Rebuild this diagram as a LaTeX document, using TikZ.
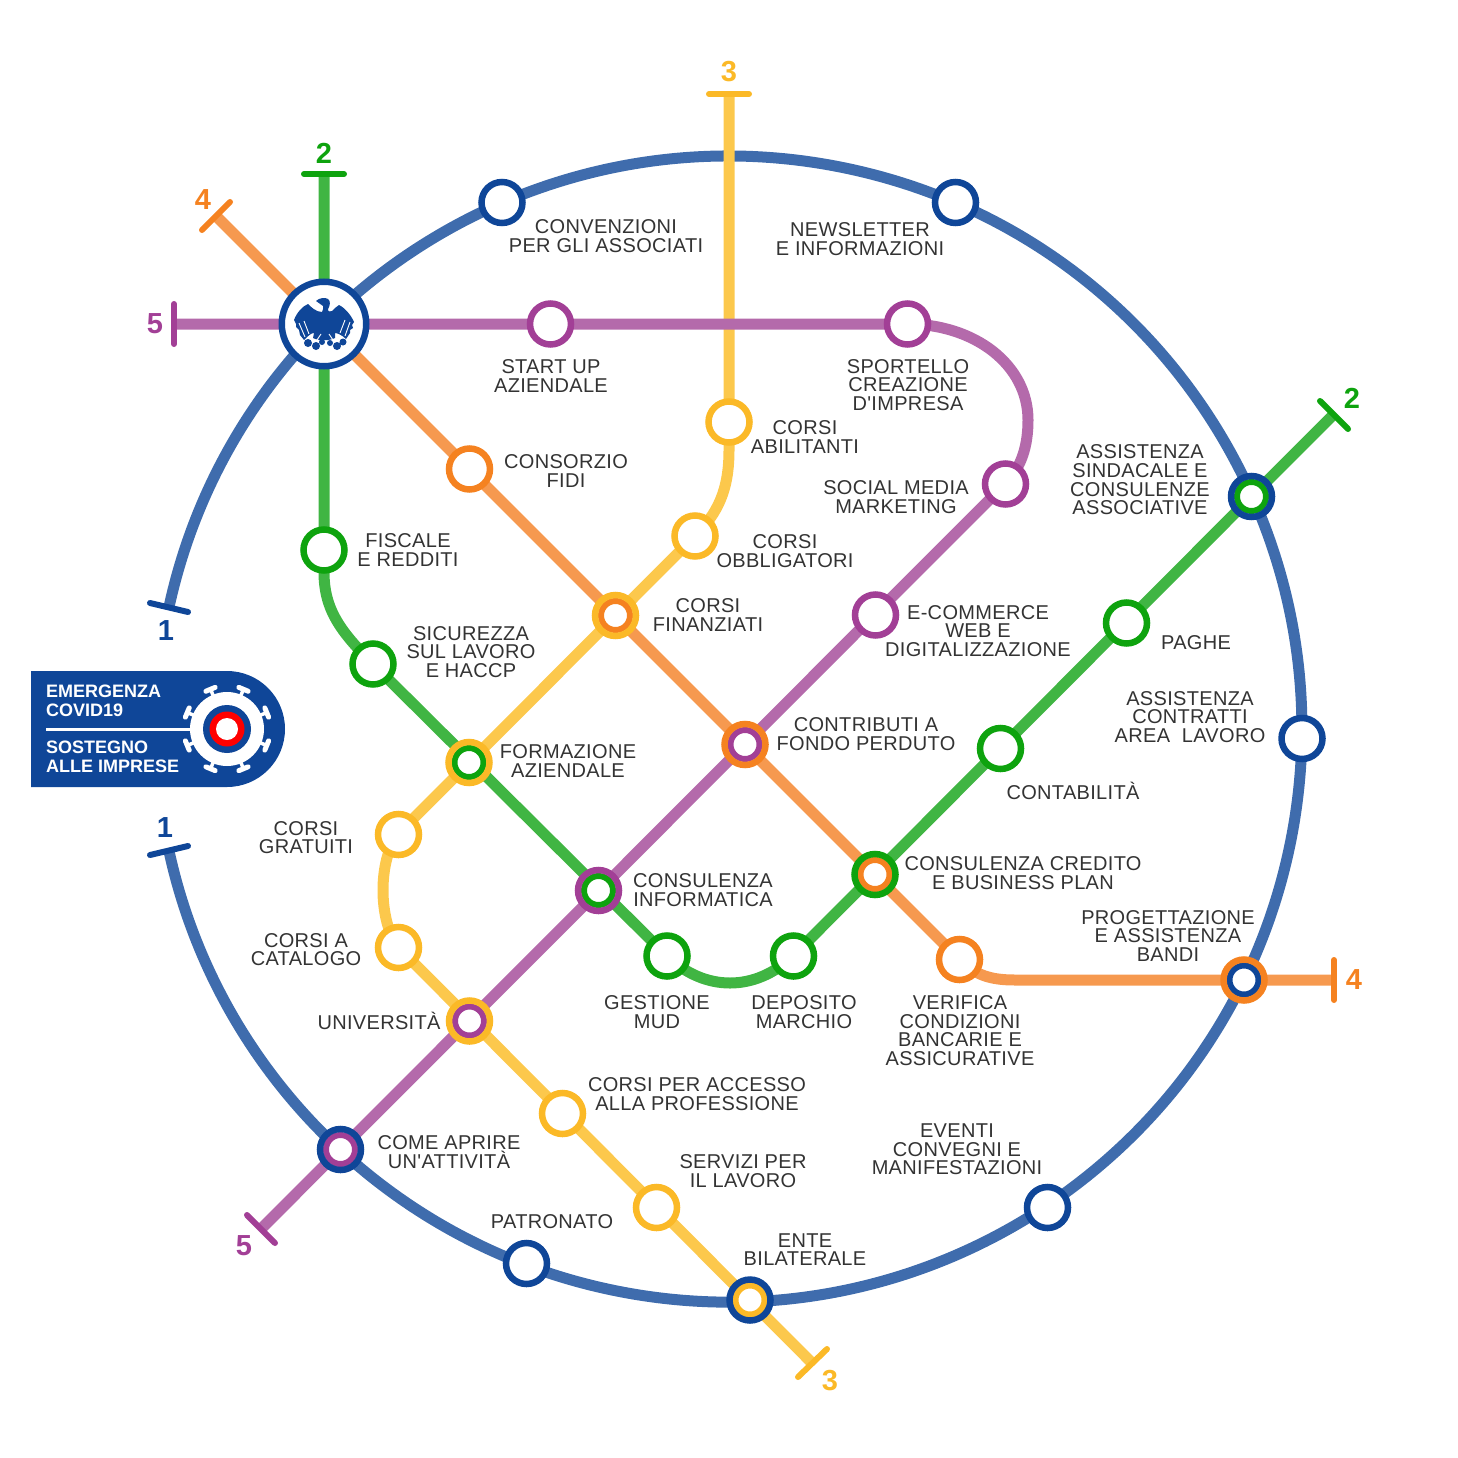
\documentclass[tikz,border=0pt]{standalone}
\usepackage{fontspec}
\newfontfamily\lblfont[LetterSpace=1.6]{Liberation Sans}
\newfontfamily\numfont{Liberation Sans}
\definecolor{lb}{HTML}{3F6CAD}\definecolor{db}{HTML}{0F4698}
\definecolor{lg}{HTML}{40B543}\definecolor{dg}{HTML}{0EA30E}
\definecolor{lo}{HTML}{F6994F}\definecolor{do}{HTML}{F58220}
\definecolor{ly}{HTML}{FCC84C}\definecolor{dy}{HTML}{FBB927}
\definecolor{lp}{HTML}{B46AAB}\definecolor{dp}{HTML}{A23F96}
\definecolor{txt}{HTML}{333333}
\tikzset{
 x=1pt,y=-1pt,
 line/.style={line width=11pt,line join=round},
 tee/.style={line width=6pt,line cap=round},
 stn/.style={circle,draw=#1,line width=6.5pt,fill=white,minimum size=41pt,inner sep=0pt},
 stnd/.style n args={2}{circle,draw=#1,line width=6.5pt,fill=white,minimum size=41pt,inner sep=0pt,
   path picture={\draw[#2,line width=6pt] (path picture bounding box.center) circle[radius=14.5pt];}},
 lbl/.style={font=\fontsize{20}{18.7}\lblfont,text=txt,align=center,inner sep=0pt},
 num/.style={font=\fontsize{29}{29}\numfont\bfseries,inner sep=0pt},
 cov/.style={font=\fontsize{18}{18.7}\numfont\bfseries,text=white,align=left,anchor=west,inner sep=0pt},
}
\begin{document}
\begin{tikzpicture}
\useasboundingbox (0,0) rectangle (1458,1458);
\coordinate (hub) at (324,324);
\coordinate (t1a) at (169,607);\coordinate (t1b) at (169,850);
\coordinate (t2a) at (324,174);\coordinate (t2b) at (1334,414);
\coordinate (t3a) at (729,94);\coordinate (t3b) at (812,1363);
\coordinate (t4a) at (215,215);\coordinate (t4b) at (1334,980);
\coordinate (t5a) at (174,324);\coordinate (t5b) at (261,1229);
% line 1
\draw[line,lb] (t1a) arc[start angle=192.3,end angle=527.7,radius=573];
% line 2
\draw[line,lg] (t2a) -- (324,572) .. controls (324,610) and (341,632) .. (373,664) -- (667,956) .. controls (705,992) and (755,992) .. (793,956) -- (t2b);
% line 3
\draw[line,ly] (t3a) -- (729,450) .. controls (729,490) and (718,513) .. (695,536) -- (398,834) .. controls (378,860) and (378,920) .. (398,947) -- (t3b);
% line 4
\draw[line,lo] (t4a) -- (959,959) .. controls (975,975) and (990,980) .. (1015,980) -- (t4b);
% line 5
\draw[line,lp] (t5a) -- (907,324) .. controls (975,324) and (1028,365) .. (1028,420) .. controls (1028,445) and (1022,467) .. (1005,484) -- (t5b);
% terminal bars
\draw[tee,db] (150,603) -- (188,612);
\draw[tee,db] (150,855) -- (188,846);
\draw[tee,dg] (304,174) -- (344,174);
\draw[tee,dg] (1320,401) -- (1348,429);
\draw[tee,dy] (709,94) -- (749,94);
\draw[tee,dy] (798,1377) -- (827,1349);
\draw[tee,do] (202,230) -- (230,202);
\draw[tee,do] (1334,960) -- (1334,1000);
\draw[tee,dp] (174,304) -- (174,344);
\draw[tee,dp] (247,1215) -- (275,1243);
% terminal numbers
\node[num,text=db] at (166,630.5) {1};
\node[num,text=db] at (165,827.5) {1};
\node[num,text=dg] at (324,153) {2};
\node[num,text=dg] at (1352,398) {2};
\node[num,text=dy] at (729,72) {3};
\node[num,text=dy] at (830,1381) {3};
\node[num,text=do] at (203,199.5) {4};
\node[num,text=do] at (1354,980) {4};
\node[num,text=dp] at (155,324) {5};
\node[num,text=dp] at (244,1245.5) {5};
% stations
\node[stn=db] at (502,202.5) {};
\node[stn=db] at (955.5,202.5) {};
\node[stn=db] at (1302,738.5) {};
\node[stn=db] at (1047.5,1207.5) {};
\node[stn=db] at (526.5,1263.5) {};
\node[stn=dp] at (550.5,324) {};
\node[stn=dp] at (907.5,324) {};
\node[stn=dp] at (1005.5,484) {};
\node[stn=dp] at (875.5,615) {};
\node[stn=do] at (469.5,469) {};
\node[stn=do] at (959.5,959.5) {};
\node[stn=dy] at (729,422) {};
\node[stn=dy] at (695,536) {};
\node[stn=dy] at (398.5,834.5) {};
\node[stn=dy] at (398.5,947.5) {};
\node[stn=dy] at (562.5,1113.5) {};
\node[stn=dy] at (656.5,1207.5) {};
\node[stn=dg] at (324,550) {};
\node[stn=dg] at (373,664) {};
\node[stn=dg] at (667,956) {};
\node[stn=dg] at (793.5,956) {};
\node[stn=dg] at (1000.5,748.5) {};
\node[stn=dg] at (1126.5,623) {};
\node[stnd={db}{dg}] at (1251.5,496.5) {};
\node[stnd={do}{db}] at (1244,980) {};
\node[stnd={db}{dy}] at (750,1300) {};
\node[stnd={db}{dp}] at (340.5,1149.5) {};
\node[stnd={dy}{do}] at (615.5,615.5) {};
\node[stnd={do}{dp}] at (745,744.5) {};
\node[stnd={dy}{dg}] at (469,762.5) {};
\node[stnd={dp}{dg}] at (598.5,890.5) {};
\node[stnd={dg}{do}] at (875,874.5) {};
\node[stnd={dy}{dp}] at (469.5,1021) {};
% hub
\node[circle,draw=db,line width=6.5pt,fill=white,minimum size=84.5pt,inner sep=0pt] at (hub) {};
% eagle
\begin{scope}[shift={(hub)}]
\fill[db] (-8,-23) .. controls (-5,-26) and (1,-27) .. (4,-25) .. controls (7,-23) and (6,-18) .. (4,-15)
 .. controls (3,-13) and (5,-12) .. (8,-13) .. controls (11,-15) and (12,-18) .. (15,-19) .. controls (21,-16) and (27,-9) .. (30,-2)
 -- (28,1) -- (29,4) -- (26,6) -- (26,9) -- (22,15) .. controls (18,11) and (13,9) .. (11,9) -- (11,14) .. controls (5,17) and (-5,17) .. (-11,14)
 -- (-10,9) .. controls (-13,9) and (-16,12) .. (-20,16) -- (-24,11) -- (-25,6) -- (-28,3) -- (-28,0) -- (-30,-4)
 .. controls (-27,-12) and (-21,-18) .. (-16,-20) .. controls (-13,-17) and (-8,-12) .. (-2,-12) .. controls (-1,-14) and (0,-17) .. (-1,-18)
 .. controls (-3,-21) and (-6,-20) .. (-8,-23) -- cycle;
\draw[white,line width=.9pt] (-25,-1) -- (-19,13) (-20,-3) -- (-15,10)
 (26,-2) -- (21,12) (21,-4) -- (16,9) (-3,10) -- (-7,16) (5,10) -- (9,16);
\fill[db] (-16,19) circle[radius=4] (-8,22) circle[radius=4] (-2,18) circle[radius=3] (6,19) circle[radius=3] (13,22) circle[radius=4] (19,18) circle[radius=3.5];
\end{scope}
% badge
\fill[db] (31,671) -- (227,671) arc[start angle=-90,end angle=90,radius=58] -- (31,787) -- cycle;
\node[cov] at (46,691) {EMERGENZA};
\node[cov] at (46,710) {COVID19};
\node[cov] at (46,747) {SOSTEGNO};
\node[cov] at (46,766) {ALLE IMPRESE};
\draw[white,line width=3pt] (46,729) -- (195,729);
\coordinate (vir) at (227,729);
\foreach \a in {22.5,67.5,...,360}{
 \draw[white,line width=3.5pt] (vir) ++(\a:36) -- ++(\a:7);
 \draw[white,line width=5pt,line cap=round] (vir) ++(\a:43) ++(\a+90:5) -- ++(\a-90:10);
}
\fill[white] (vir) circle[radius=37];
\fill[db] (vir) circle[radius=24];
\fill[red] (vir) circle[radius=17.5];
\fill[white] (vir) circle[radius=11];
% labels
\node[lbl] at (606,236) {CONVENZIONI\\PER GLI ASSOCIATI};
\node[lbl] at (860,239) {NEWSLETTER\\E INFORMAZIONI};
\node[lbl] at (551,376) {START UP\\AZIENDALE};
\node[lbl] at (908,385) {SPORTELLO\\CREAZIONE\\D'IMPRESA};
\node[lbl] at (805,437) {CORSI\\ABILITANTI};
\node[lbl] at (566,471) {CONSORZIO\\FIDI};
\node[lbl] at (896,497) {SOCIAL MEDIA\\MARKETING};
\node[lbl] at (1140,480) {ASSISTENZA\\SINDACALE E\\CONSULENZE\\ASSOCIATIVE};
\node[lbl] at (408,550) {FISCALE\\E REDDITI};
\node[lbl] at (785,551) {CORSI\\OBBLIGATORI};
\node[lbl] at (708,615) {CORSI\\FINANZIATI};
\node[lbl] at (978,631) {E-COMMERCE\\WEB E\\DIGITALIZZAZIONE};
\node[lbl] at (471,652) {SICUREZZA\\SUL LAVORO\\E HACCP};
\node[lbl] at (1196,642.5) {PAGHE};
\node[lbl] at (1190,717) {ASSISTENZA\\CONTRATTI\\AREA\ \ LAVORO};
\node[lbl] at (866,734) {CONTRIBUTI A\\FONDO PERDUTO};
\node[lbl] at (568,761) {FORMAZIONE\\AZIENDALE};
\node[lbl] at (1073,790.5) {CONTABILITÀ};
\node[lbl] at (306,837.5) {CORSI\\GRATUITI};
\node[lbl] at (703,890) {CONSULENZA\\INFORMATICA};
\node[lbl] at (1023,873) {CONSULENZA CREDITO\\E BUSINESS PLAN};
\node[lbl] at (1168,936) {PROGETTAZIONE\\E ASSISTENZA\\BANDI};
\node[lbl] at (306,949.5) {CORSI A\\CATALOGO};
\node[lbl] at (657,1012) {GESTIONE\\MUD};
\node[lbl] at (804,1012) {DEPOSITO\\MARCHIO};
\node[lbl] at (960,1030.5) {VERIFICA\\CONDIZIONI\\BANCARIE E\\ASSICURATIVE};
\node[lbl] at (379,1020.5) {UNIVERSITÀ};
\node[lbl] at (697,1094) {CORSI PER ACCESSO\\ALLA PROFESSIONE};
\node[lbl] at (449,1152) {COME APRIRE\\UN'ATTIVITÀ};
\node[lbl] at (957,1149.5) {EVENTI\\CONVEGNI E\\MANIFESTAZIONI};
\node[lbl] at (743,1171) {SERVIZI PER\\IL LAVORO};
\node[lbl] at (552,1221.5) {PATRONATO};
\node[lbl] at (805,1249.5) {ENTE\\BILATERALE};
\end{tikzpicture}
\end{document}
